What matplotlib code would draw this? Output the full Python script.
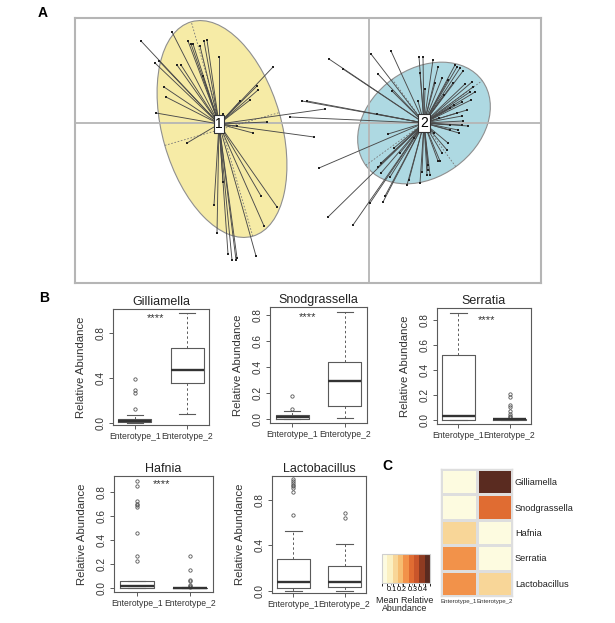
import numpy as np
import matplotlib
matplotlib.use("Agg")
import matplotlib.pyplot as plt
from matplotlib.patches import Ellipse
from matplotlib.colors import ListedColormap, BoundaryNorm
from matplotlib.cm import ScalarMappable

plt.rcParams["font.family"] = ["Liberation Sans", "DejaVu Sans"]

W, H = 615, 623

# ---- panel A: between-class ordination (samples joined to enterotype centroid)
cent_x = [-1.50, 0.55]
cent_y = [-0.01, 0.00]

c1_x = [-2.28, -1.97, -2.10, -2.14, -1.81, -1.78, -1.76, -1.69, -1.65, -1.62,
        -1.92, -1.88, -1.50, -1.66, -0.96, -2.05, -2.03, -1.12, -1.11, -1.29,
        -1.19, -2.13, -1.46, -1.02, -1.32, -1.16, -0.55, -0.44, -1.82, -1.55,
        -1.46, -1.52, -1.41, -1.37, -1.33, -1.32, -1.13, -1.05, -1.08, -0.92]
c1_y = [0.82, 0.91, 0.62, 0.60, 0.82, 0.79, 0.79, 0.77, 0.82, 0.83,
        0.58, 0.58, 0.66, 0.47, 0.56, 0.36, 0.26, 0.37, 0.33, 0.22,
        0.23, 0.10, 0.09, 0.01, -0.03, -0.10, -0.14, 0.14, -0.20, -0.82,
        -0.59, -1.10, -1.31, -1.37, -1.37, -1.35, -1.33, -1.03, -0.73, -0.84]

c2_x = [0.02, 0.22, 0.50, 0.54, 0.64, 0.51, 0.69, 0.73, 0.56, 0.49,
        0.09, 0.23, -0.40, -0.26, -0.67, -0.62, -0.79, 0.86, 0.88, 0.91,
        0.94, 0.79, 0.84, 0.96, 1.03, 1.04, 1.01, 1.06, 0.93, 1.02,
        0.98, 0.81, 0.88, 0.93, 0.94, 0.93, 0.81, 0.89, 0.81, 0.99,
        0.90, 0.79, 0.78, 0.73, 0.71, 0.69, 0.59, 0.59, 0.58, 0.61,
        0.53, 0.51, 0.38, 0.40, 0.25, 0.19, 0.31, 0.12, 0.09, 0.12,
        0.21, 0.16, 0.14, 0.01, -0.50, -0.41, -0.16, 0.08, 0.70, 0.65,
        0.45, 0.75, 0.85, 0.66]
c2_y = [0.69, 0.72, 0.66, 0.66, 0.63, 0.50, 0.56, 0.45, 0.34, 0.22,
        0.49, 0.32, 0.64, 0.54, 0.22, 0.22, 0.06, 0.58, 0.56, 0.55,
        0.52, 0.43, 0.40, 0.39, 0.41, 0.36, 0.31, 0.31, 0.21, 0.23,
        0.13, 0.15, 0.10, 0.07, 0.02, -0.02, -0.02, -0.07, -0.07, -0.03,
        -0.10, -0.20, -0.27, -0.30, -0.38, -0.38, -0.42, -0.47, -0.52, -0.52,
        -0.49, -0.60, -0.62, -0.57, -0.25, -0.11, -0.30, -0.40, -0.44, -0.50,
        -0.54, -0.73, -0.79, -0.80, -0.45, -0.94, -1.02, 0.09, 0.05, -0.10,
        -0.15, 0.28, 0.18, 0.40]

# ellipse centre, width, height, angle (deg)
ell_x = [-1.47, 0.55]
ell_y = [-0.06, 0.00]
ell_w = [1.19, 1.44]
ell_h = [2.23, 1.08]
ell_a = [16, 36]
ell_col = ["#f6eba6", "#aed9e2"]

# ---- panel B: boxplot summaries (lower whisker, Q1, median, Q3, upper whisker)
GROUPS = ["Enterotype_1", "Enterotype_2"]

gill_e1 = [0.0, 0.004, 0.015, 0.035, 0.07]
gill_e1_out = [0.12, 0.26, 0.29, 0.385]
gill_e2 = [0.08, 0.35, 0.465, 0.665, 0.975]
gill_e2_out = []

snod_e1 = [0.0, 0.003, 0.013, 0.03, 0.06]
snod_e1_out = [0.08, 0.18]
snod_e2 = [0.01, 0.10, 0.29, 0.44, 0.82]
snod_e2_out = []

serr_e1 = [0.0, 0.0, 0.03, 0.52, 0.86]
serr_e1_out = []
serr_e2 = [0.0, 0.0, 0.002, 0.004, 0.008]
serr_e2_out = [0.02, 0.03, 0.045, 0.07, 0.10, 0.115, 0.18, 0.21]

hafn_e1 = [0.0, 0.005, 0.02, 0.06, 0.06]
hafn_e1_out = [0.225, 0.27, 0.46, 0.68, 0.69, 0.70, 0.73, 0.85, 0.89]
hafn_e2 = [0.0, 0.0, 0.002, 0.005, 0.01]
hafn_e2_out = [0.015, 0.02, 0.03, 0.06, 0.07, 0.15, 0.27]

lact_e1 = [0.0, 0.027, 0.08, 0.283, 0.53]
lact_e1_out = [0.67, 0.865, 0.90, 0.92, 0.935, 0.95, 0.965, 0.98]
lact_e2 = [0.0, 0.033, 0.08, 0.22, 0.41]
lact_e2_out = [0.64, 0.68]

# ---- panel C: mean relative abundance
HEAT_ROWS = ["Gilliamella", "Snodgrassella", "Hafnia", "Serratia", "Lactobacillus"]
heat_e1 = [0.02, 0.02, 0.12, 0.24, 0.24]
heat_e2 = [0.46, 0.31, 0.02, 0.02, 0.13]
HEAT_COLS = ["#fdfbe0", "#fbf0c2", "#f8d698", "#f6bd72", "#f2924a",
             "#e06c32", "#c9552a", "#8f3b21", "#5a2b20"]


def px_axes(fig, x0, y0, x1, y1):
    return fig.add_axes([x0 / W, 1 - y1 / H, (x1 - x0) / W, (y1 - y0) / H])


def stats(five, out):
    lo, q1, med, q3, hi = five
    return dict(whislo=lo, q1=q1, med=med, q3=q3, whishi=hi, fliers=out)


fig = plt.figure(figsize=(W / 100, H / 100), dpi=100)
fig.patch.set_facecolor("white")

# ------------------------------------------------------------------ A
axA = px_axes(fig, 75, 18, 541, 283)
axA.set_xlim(-2.94, 1.72)
axA.set_ylim(-1.60, 1.05)
axA.set_xticks([])
axA.set_yticks([])
for s in axA.spines.values():
    s.set_color("#b5b5b5")
    s.set_linewidth(1.5)
axA.axhline(0, color="#b5b5b5", lw=1.3, zorder=2)
axA.axvline(0, color="#b5b5b5", lw=1.3, zorder=2)

for k in range(2):
    e = Ellipse((ell_x[k], ell_y[k]), ell_w[k], ell_h[k], angle=ell_a[k],
                facecolor=ell_col[k], edgecolor="#8f8f8f", lw=0.8, zorder=1)
    axA.add_patch(e)
    a = np.radians(ell_a[k])
    ux, uy = np.cos(a), np.sin(a)
    for half, (dx, dy) in ((ell_w[k] / 2, (ux, uy)), (ell_h[k] / 2, (-uy, ux))):
        axA.plot([ell_x[k] - half * dx, ell_x[k] + half * dx],
                 [ell_y[k] - half * dy, ell_y[k] + half * dy],
                 color="#777777", lw=0.6, ls=(0, (2, 2)), zorder=2.5)

for k, (xs, ys) in enumerate(((c1_x, c1_y), (c2_x, c2_y))):
    for x, y in zip(xs, ys):
        axA.plot([cent_x[k], x], [cent_y[k], y], color="#4a4a4a", lw=0.65, zorder=3)
    axA.scatter(xs, ys, s=3, marker="s", color="#222222", zorder=4, linewidths=0)
    axA.text(cent_x[k], cent_y[k], str(k + 1), ha="center", va="center",
             fontsize=10, zorder=5,
             bbox=dict(boxstyle="square,pad=0.12", fc="white", ec="#333333", lw=0.8))

fig.text(43 / W, 1 - 13 / H, "A", fontsize=10, fontweight="bold", ha="center", va="center")

# ------------------------------------------------------------------ B
fig.text(44 / W, 1 - 298 / H, "B", fontsize=10, fontweight="bold", ha="center", va="center")

panels = [
    ("Gilliamella", (113, 309, 209, 425), [stats(gill_e1, gill_e1_out), stats(gill_e2, gill_e2_out)],
     (-0.02, 1.01), [0.0, 0.4, 0.8], (1.40, 0.93)),
    ("Snodgrassella", (270, 307, 367, 423), [stats(snod_e1, snod_e1_out), stats(snod_e2, snod_e2_out)],
     (-0.03, 0.86), [0.0, 0.2, 0.4, 0.6, 0.8], (1.29, 0.78)),
    ("Serratia", (437, 308, 531, 424), [stats(serr_e1, serr_e1_out), stats(serr_e2, serr_e2_out)],
     (-0.035, 0.90), [0.0, 0.2, 0.4, 0.6, 0.8], (1.54, 0.80)),
    ("Hafnia", (114, 476, 213, 592), [stats(hafn_e1, hafn_e1_out), stats(hafn_e2, hafn_e2_out)],
     (-0.03, 0.935), [0.0, 0.2, 0.4, 0.6, 0.8], (1.47, 0.87)),
    ("Lactobacillus", (272, 476, 366, 593), [stats(lact_e1, lact_e1_out), stats(lact_e2, lact_e2_out)],
     (-0.02, 1.01), [0.0, 0.4, 0.8], None),
]

edge = "#5a5a5a"
for title, (x0, y0, x1, y1), st, ylim, yt, star in panels:
    ax = px_axes(fig, x0, y0, x1, y1)
    ax.bxp(st, positions=[1, 2], widths=0.63, showfliers=True,
           boxprops=dict(color=edge, lw=0.8),
           medianprops=dict(color="#333333", lw=1.7),
           whiskerprops=dict(color=edge, lw=0.7, ls=(0, (2.5, 2.5))),
           capprops=dict(color=edge, lw=0.8),
           flierprops=dict(marker="o", markersize=2.4, markerfacecolor="none",
                           markeredgecolor="#555555", markeredgewidth=0.6))
    ax.set_xlim(0.58, 2.42)
    ax.set_ylim(*ylim)
    ax.set_xticks([1, 2])
    ax.set_xticklabels(GROUPS, fontsize=6.2, color="#333333")
    ax.set_yticks(yt)
    ax.set_yticklabels([f"{v:.1f}" for v in yt], fontsize=7.2, color="#333333",
                       rotation=90, va="center")
    ax.tick_params(length=3, width=0.7, color=edge, pad=2)
    for s in ax.spines.values():
        s.set_color(edge)
        s.set_linewidth(0.8)
    ax.set_title(title, fontsize=9, pad=3, color="#222222")
    ax.set_ylabel("Relative Abundance", fontsize=8.2, color="#333333")
    ax.yaxis.set_label_coords(-27 / (x1 - x0), 0.5)
    if star:
        ax.text(star[0], star[1], "****", fontsize=8, ha="center", va="center",
                color="#333333")

# ------------------------------------------------------------------ C
fig.text(387 / W, 1 - 466 / H, "C", fontsize=10, fontweight="bold", ha="center", va="center")

cmap = ListedColormap(HEAT_COLS)
bounds = np.linspace(0.01, 0.47, len(HEAT_COLS) + 1)
norm = BoundaryNorm(bounds, cmap.N)

axC = px_axes(fig, 441, 469, 512, 596)
mat = np.column_stack([heat_e1, heat_e2])
axC.pcolormesh(mat, cmap=cmap, norm=norm, edgecolors="#dedede", linewidth=1.0)
axC.set_xlim(0, 2)
axC.set_ylim(len(HEAT_ROWS), 0)
axC.set_xticks([0.5, 1.5])
axC.set_xticklabels(GROUPS, fontsize=4.4, color="#333333")
axC.set_yticks(np.arange(len(HEAT_ROWS)) + 0.5)
axC.set_yticklabels(HEAT_ROWS, fontsize=6.7, color="#222222")
axC.yaxis.tick_right()
axC.tick_params(length=0, pad=2)
for s in axC.spines.values():
    s.set_color("#dedede")
    s.set_linewidth(1.0)

cax = px_axes(fig, 382, 554, 430, 583)
cb = fig.colorbar(ScalarMappable(norm=norm, cmap=cmap), cax=cax,
                  orientation="horizontal", spacing="proportional",
                  ticks=[0.1, 0.2, 0.3, 0.4])
cb.outline.set_edgecolor("#cfcfcf")
cb.outline.set_linewidth(0.8)
cax.tick_params(labelsize=5.2, length=1.5, width=0.5, pad=1, color="#555555")
cax.set_xticklabels(["0.1", "0.2", "0.3", "0.4"])
fig.text(405 / W, 1 - 596 / H, "Mean Relative\nAbundance", fontsize=6.4,
         ha="center", va="top", linespacing=0.8, color="#222222")

fig.savefig("out.png", dpi=100, facecolor="white")
